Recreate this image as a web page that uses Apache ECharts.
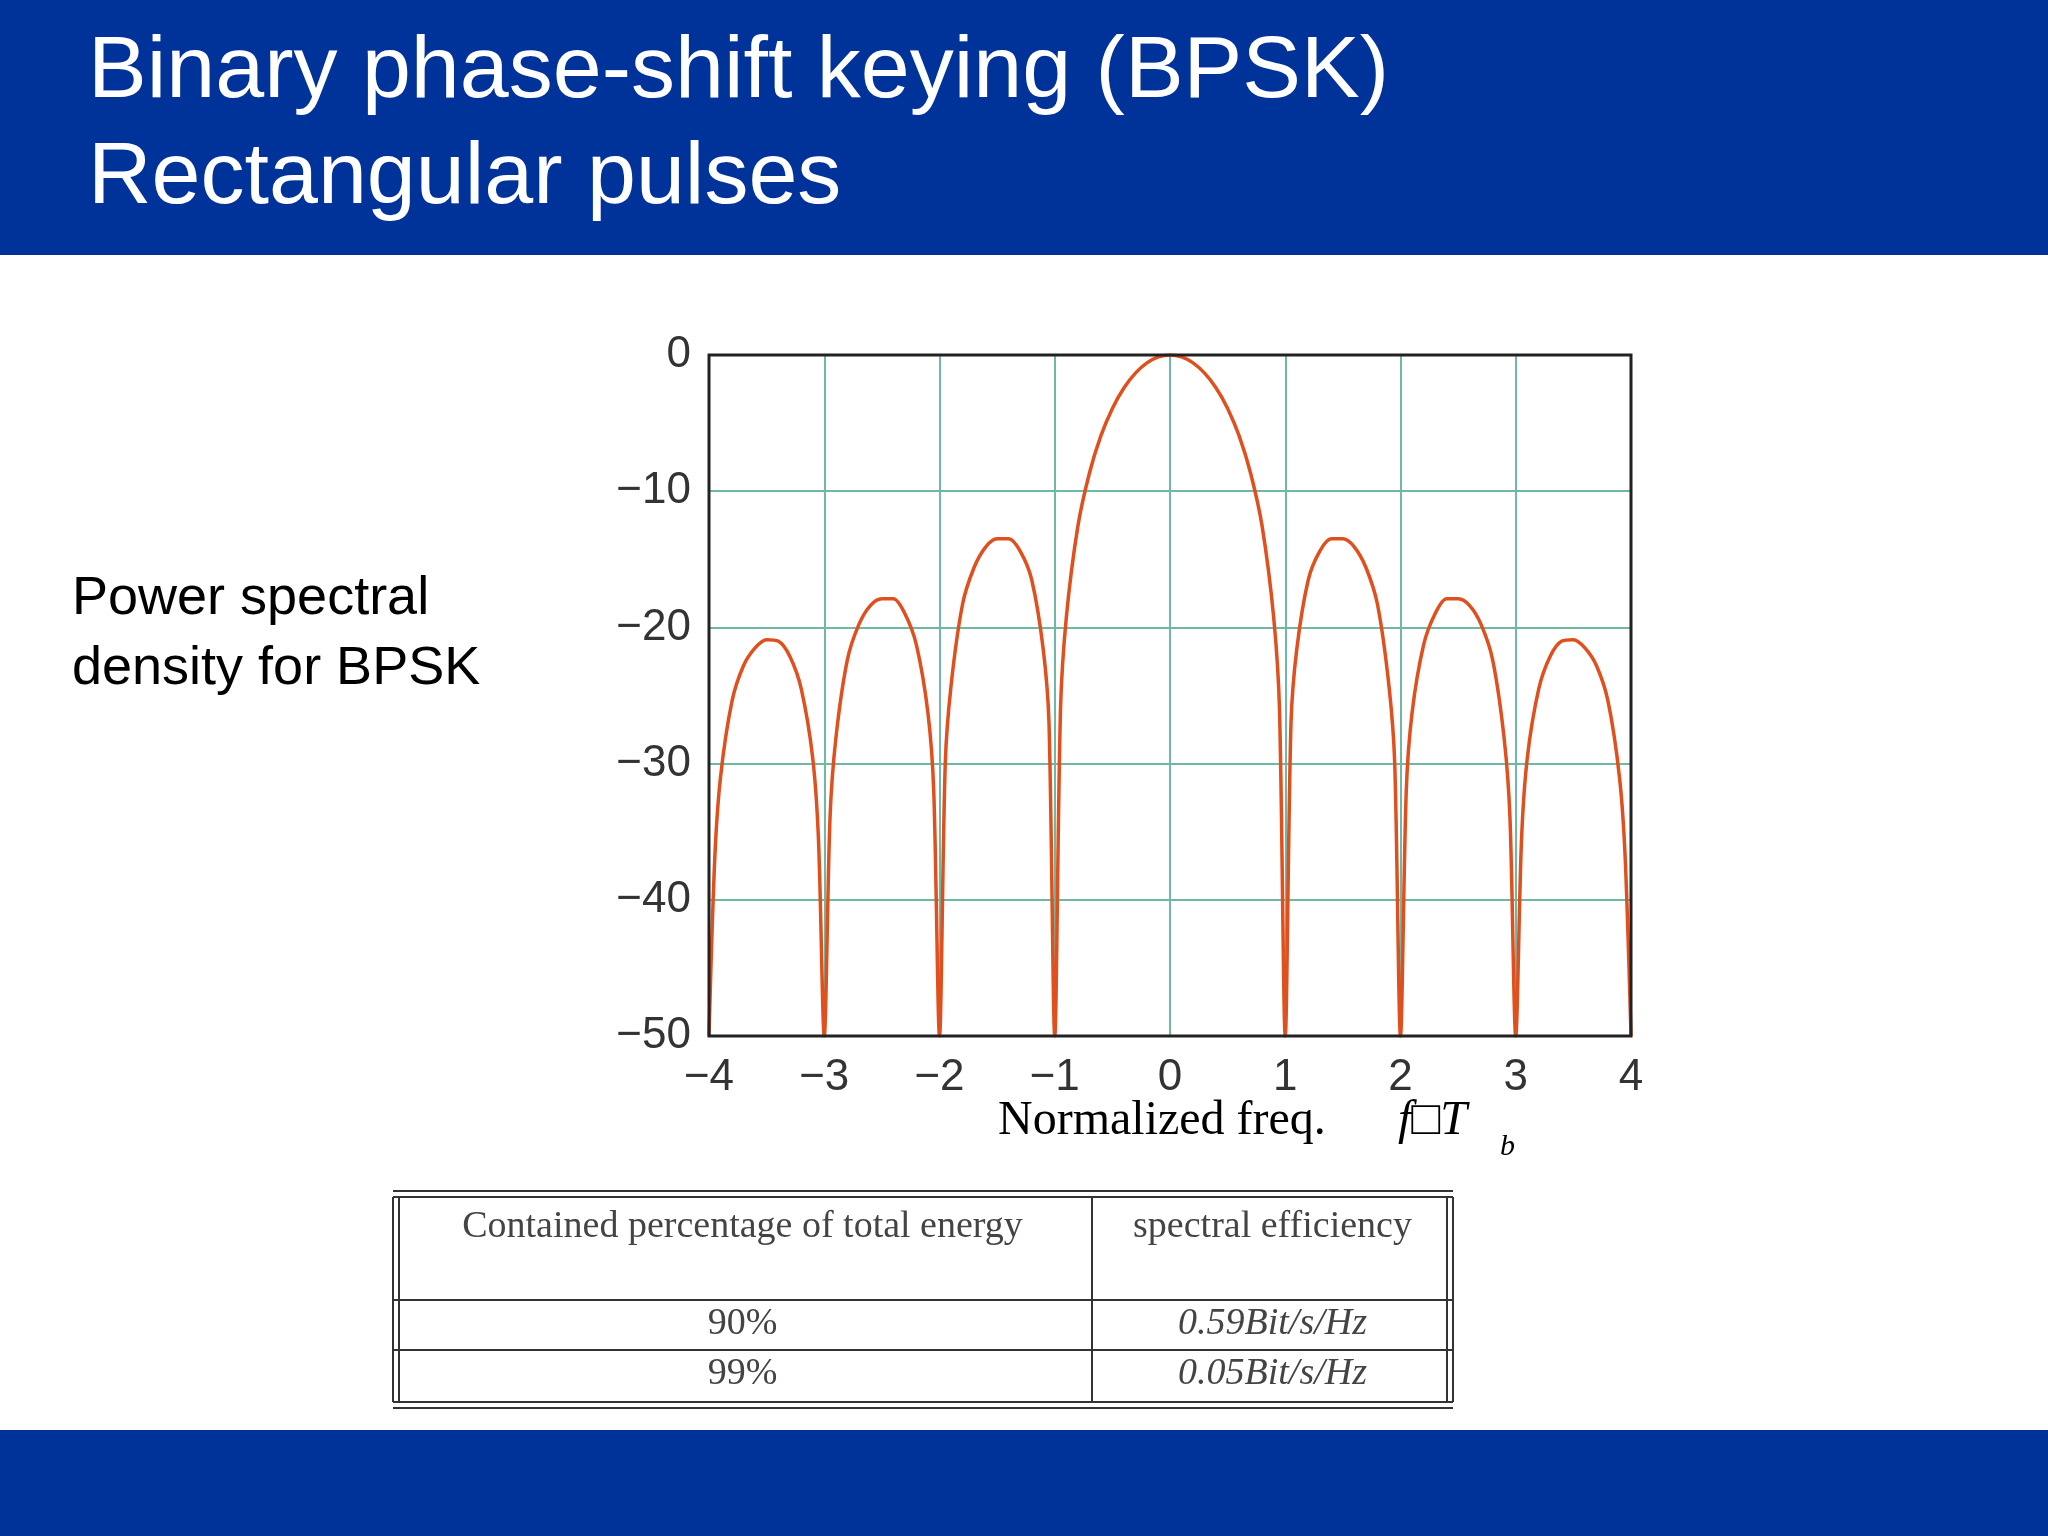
<!DOCTYPE html>
<html><head><meta charset="utf-8">
<script src="https://cdn.jsdelivr.net/npm/echarts@6/dist/echarts.min.js"></script>
<style>html,body{margin:0;padding:0;background:#fff}#c{width:2048px;height:1536px}</style>
</head><body><div id="c"></div>
<script>
const freqPos = [0,0.1,0.2,0.3,0.4,0.5,0.6,0.7,0.8,0.9,0.95,1,1.05,1.1,1.2,1.3,1.4,1.5,1.6,1.7,1.8,1.9,1.95,2,2.05,2.1,2.2,2.3,2.4,2.5,2.6,2.7,2.8,2.9,2.95,3,3.05,3.1,3.2,3.3,3.4,3.5,3.6,3.7,3.8,3.9,3.95,4];
const psdPos  = [0,-0.14,-0.58,-1.33,-2.42,-3.92,-5.94,-8.7,-12.6,-19.3,-26,-50,-27,-21.6,-16.5,-14.4,-13.5,-13.5,-14.1,-15.6,-18.3,-24.3,-30,-50,-32,-26.3,-21.3,-19.0,-17.9,-17.9,-18.4,-19.8,-22.4,-28.2,-34,-50,-35.6,-29.6,-24.5,-22.1,-21.0,-20.9,-21.5,-22.8,-25.4,-31,-37,-50];
const xTicks = [-4,-3,-2,-1,0,1,2,3,4];
const yTicks = [0,-10,-20,-30,-40,-50];
const tableHead = ['Contained percentage of total energy','spectral efficiency'];
const tableRows = [['90%','0.59Bit/s/Hz'],['99%','0.05Bit/s/Hz']];

const pts = [];
for (let i = freqPos.length-1; i > 0; i--) pts.push([-freqPos[i], psdPos[i]]);
for (let i = 0; i < freqPos.length; i++) pts.push([freqPos[i], psdPos[i]]);

const blue = '#00339a';
const serif = 'Liberation Serif, DejaVu Serif, serif';
const gx0=709, gx1=1631, gy0=355, gy1=1036;
const g = [
  {type:'rect',shape:{x:0,y:0,width:2048,height:255},style:{fill:blue}},
  {type:'rect',shape:{x:0,y:1430,width:2048,height:106},style:{fill:blue}},
  {type:'text',left:88,top:20,style:{text:'Binary phase-shift keying (BPSK)\nRectangular pulses',fill:'#fff',font:'88px Liberation Sans, Arial, sans-serif',lineHeight:106}},
  {type:'text',left:72,top:564,style:{text:'Power spectral\ndensity for BPSK',fill:'#000',font:'54px Liberation Sans, Arial, sans-serif',lineHeight:70}},
  {type:'text',left:998,top:1097,style:{text:'Normalized freq.',fill:'#000',font:'48px '+serif}},
  {type:'text',left:1398,top:1097,style:{text:'f\u25a1T',fill:'#000',font:'italic 48px '+serif}},
  {type:'text',left:1500,top:1132,style:{text:'b',fill:'#000',font:'italic 30px '+serif}},
  {type:'rect',z:100,shape:{x:gx0,y:gy0,width:gx1-gx0,height:gy1-gy0},style:{fill:'none',stroke:'#222',lineWidth:3}}
];
const tx0=393, tx1=1453, tmid=1092, ty=[1197,1300,1350,1402];
const L=(x1,y1,x2,y2,w)=>({type:'line',shape:{x1,y1,x2,y2},style:{stroke:'#333',lineWidth:w||2}});
g.push(L(tx0,ty[0]-6,tx1,ty[0]-6),L(tx0,ty[0],tx1,ty[0]),L(tx0,ty[3],tx1,ty[3]),L(tx0,ty[3]+6,tx1,ty[3]+6));
g.push(L(tx0,ty[1],tx1,ty[1]),L(tx0,ty[2],tx1,ty[2]));
g.push(L(tx0,ty[0],tx0,ty[3]),L(tx0+6,ty[0],tx0+6,ty[3]),L(tmid,ty[0],tmid,ty[3]),L(tx1,ty[0],tx1,ty[3]),L(tx1-6,ty[0],tx1-6,ty[3]));
const tf='38px '+serif;
g.push({type:'text',x:(tx0+tmid)/2,y:1208,style:{text:tableHead[0],fill:'#444',font:tf,align:'center'}});
g.push({type:'text',x:(tmid+tx1)/2,y:1208,style:{text:tableHead[1],fill:'#444',font:tf,align:'center'}});
tableRows.forEach((r,i)=>{
  const yy=ty[i+1]+5;
  g.push({type:'text',x:(tx0+tmid)/2,y:yy,style:{text:r[0],fill:'#444',font:tf,align:'center'}});
  g.push({type:'text',x:(tmid+tx1)/2,y:yy,style:{text:r[1],fill:'#444',font:'italic '+tf,align:'center'}});
});

const chart = echarts.init(document.getElementById('c'));
chart.setOption({
  animation:false,
  grid:{left:gx0,right:2048-gx1,top:gy0,bottom:1536-gy1,show:false},
  xAxis:{type:'value',min:-4,max:4,interval:1,
    axisLine:{show:false},axisTick:{show:false},
    splitLine:{lineStyle:{color:'#6fb8a4',width:2}},
    axisLabel:{fontSize:44,color:'#333',margin:20,formatter:v=>String(v).replace('-','\u2212')}},
  yAxis:{type:'value',min:-50,max:0,interval:10,
    axisLine:{show:false},axisTick:{show:false},
    splitLine:{lineStyle:{color:'#6fb8a4',width:2}},
    axisLabel:{fontSize:44,color:'#333',margin:18,formatter:v=>String(v).replace('-','\u2212')}},
  series:[{type:'line',data:pts,showSymbol:false,smooth:0.3,lineStyle:{color:'#e0501e',width:3.5},clip:true}],
  graphic:g
});
</script></body></html>
